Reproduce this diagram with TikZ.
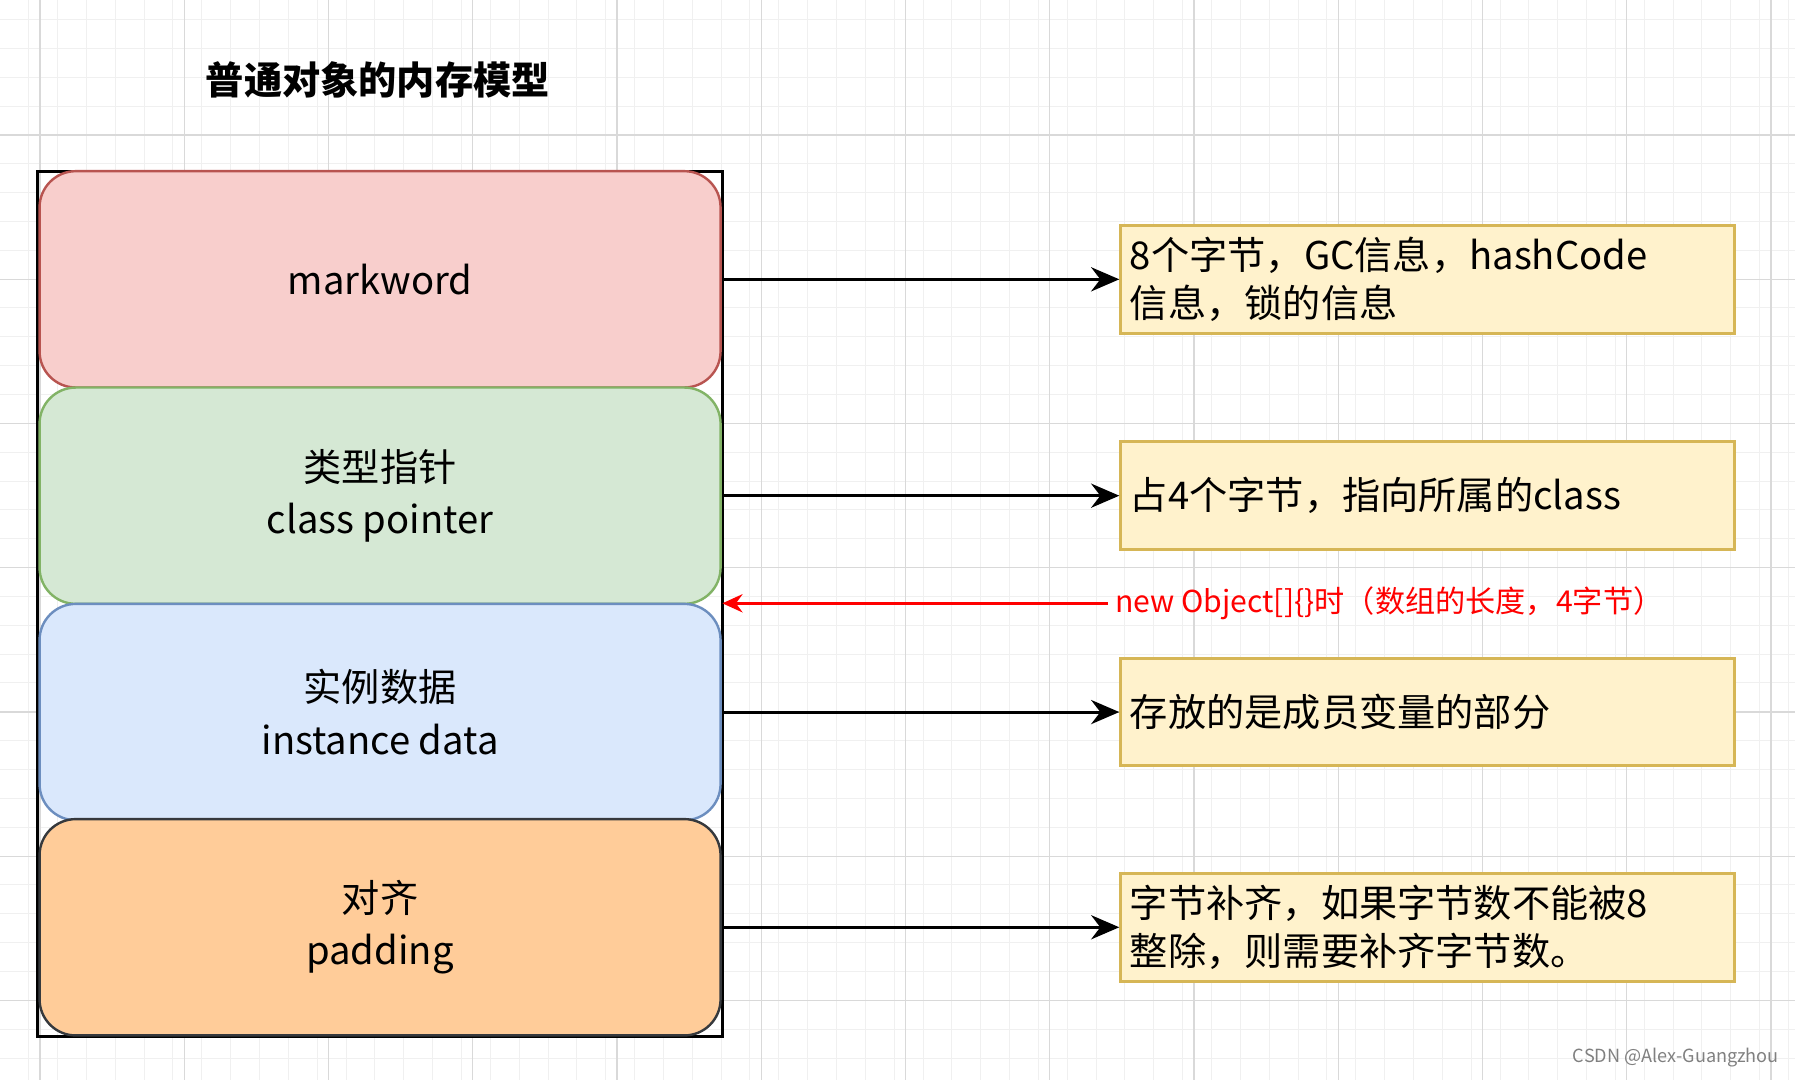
\documentclass[tikz,border=0pt]{standalone}
\usepackage{fontspec}
\setmainfont{Noto Sans CJK SC}
\usepackage{tikz}
\usetikzlibrary{arrows.meta}
\definecolor{redfill}{HTML}{F8CECC}\definecolor{redline}{HTML}{B85450}
\definecolor{greenfill}{HTML}{D5E8D4}\definecolor{greenline}{HTML}{82B366}
\definecolor{bluefill}{HTML}{DAE8FC}\definecolor{blueline}{HTML}{6C8EBF}
\definecolor{orangefill}{HTML}{FFCC99}\definecolor{orangeline}{HTML}{36393D}
\definecolor{notefill}{HTML}{FFF2CC}\definecolor{noteline}{HTML}{D6B656}
\tikzset{
  part/.style={draw, line width=1.2pt, rounded corners=18pt, minimum width=11.9cm, minimum height=3.78cm, align=center, font=\fontsize{19}{26}\selectfont},
  note/.style={draw=noteline, fill=notefill, line width=1.5pt, minimum width=10.72cm, minimum height=1.88cm, text width=10.4cm, align=left, font=\fontsize{19}{24}\selectfont},
  link/.style={-{Stealth[length=14pt,width=12pt]}, line width=1.5pt}
}
\begin{document}
\begin{tikzpicture}[x=0.02cm, y=-0.02cm]
	\useasboundingbox (0,0) rectangle (1568,943);
	\fill[white] (0,0) rectangle (1568,943);
	% background grid
	\foreach \i in {0,...,63} \draw[gray!12, line width=0.5pt] (\i*25.2-0.1,0) -- (\i*25.2-0.1,943);
	\foreach \i in {0,...,38} \draw[gray!12, line width=0.5pt] (0,\i*25.2+17) -- (1568,\i*25.2+17);
	\foreach \i in {0,...,12} \draw[gray!30, line width=0.6pt] (35+\i*126,0) -- (35+\i*126,943);
	\foreach \i in {0,...,7} \draw[gray!30, line width=0.6pt] (0,-8+\i*126) -- (1568,-8+\i*126);

	\node[font=\fontsize{19}{24}\selectfont\bfseries] (title) at (330,70) {普通对象的内存模型};
	\draw[line width=1.5pt] (33,150) rectangle (631,905);

	\node[part, draw=redline, fill=redfill] (mark) at (332,244) {markword};
	\node[part, draw=greenline, fill=greenfill] (klass) at (332,433) {类型指针\\class pointer};
	\node[part, draw=blueline, fill=bluefill] (inst) at (332,622) {实例数据\\instance data};
	\node[part, draw=orangeline, fill=orangefill] (pad) at (332,810) {对齐\\padding};

	\node[note] (n1) at (1247,244) {8个字节，GC信息，hashCode\\信息，锁的信息};
	\node[note] (n2) at (1247,433) {占4个字节，指向所属的class};
	\node[note] (n3) at (1247,622) {存放的是成员变量的部分};
	\node[note] (n4) at (1247,810) {字节补齐，如果字节数不能被8\\整除，则需要补齐字节数。};

	\draw[link] (mark.east) -- (n1.west);
	\draw[link] (klass.east) -- (n2.west);
	\draw[link] (inst.east) -- (n3.west);
	\draw[link] (pad.east) -- (n4.west);

	\node[anchor=west, text=red, font=\fontsize{15}{18}\selectfont] (len) at (968,527) {new Object[]\{\}时（数组的长度，4字节）};
	\coordinate (lenend) at (631,527);
	\draw[red, line width=1.6pt, -{Stealth[length=10pt,width=9pt]}] (len.west) -- (lenend);

	\node[anchor=south east, text=gray, font=\fontsize{9}{10}\selectfont] (mark2) at (1560,938) {CSDN @Alex-Guangzhou};
\end{tikzpicture}
\end{document}
